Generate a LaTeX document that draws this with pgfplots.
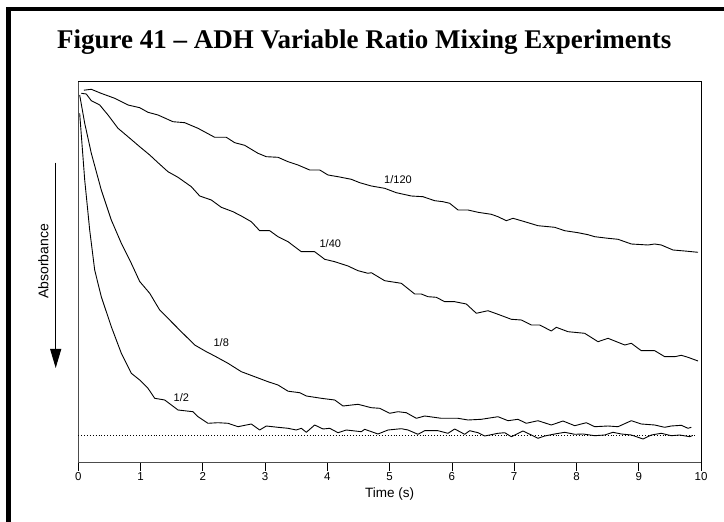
\documentclass[border=0pt]{standalone}
\usepackage{fontspec}
\setmainfont{Liberation Sans}
\newfontfamily\titlefont{Liberation Serif}
\usepackage{pgfplots}
\pgfplotsset{compat=1.18}
\usetikzlibrary{arrows.meta}

\begin{document}
\begin{tikzpicture}
\path[use as bounding box] (-78.3bp,-59.3bp) rectangle (645.7bp,462.7bp);
\draw[line width=4.7bp, line join=miter, line cap=butt] (-69.95bp,-70bp) -- (-69.95bp,453.7bp) -- (660bp,453.7bp);
\node[font=\titlefont\bfseries\fontsize{27bp}{30bp}\selectfont, anchor=base, inner sep=0pt] at (286bp,413.7bp) {Figure 41 – ADH Variable Ratio Mixing Experiments};
\node[font=\fontsize{14bp}{16bp}\selectfont, rotate=90, inner sep=0pt] at (-35bp,201.2bp) {Absorbance};
\draw[line width=1bp, -{Triangle[length=19bp,width=11bp]}] (-22.6bp,300bp) -- (-22.6bp,94.7bp);
\begin{axis}[
  at={(0,0)}, anchor=south west, scale only axis,
  width=622.7bp, height=381.7bp,
  xmin=0, xmax=10, ymin=0, ymax=381.7,
  axis x line*=bottom, axis y line*=left,
  axis line style={draw=gray!60!black, line width=1.1bp},
  xtick={0,1,2,3,4,5,6,7,8,9,10}, ytick=\empty,
  tick align=outside, major tick length=8bp,
  xtick style={draw=black, line width=0.8bp},
  /pgf/number format/assume math mode=true,
  xticklabel style={font=\fontsize{11.5bp}{13bp}\selectfont, inner sep=0pt, anchor=north, yshift=-1.5bp},
  xlabel={Time (s)},
  xlabel style={at={(axis description cs:0.5,0)}, anchor=base, yshift=-34.5bp, inner sep=0pt, font=\fontsize{13.5bp}{15bp}\selectfont},
  clip=false,
  cycle list={{black}},
  every axis plot/.append style={line width=0.9bp, no markers, line join=round},
]
\draw[black, line width=0.8bp] (rel axis cs:0,1) -- (rel axis cs:1,1) -- (rel axis cs:1,0);
% dotted baseline
\addplot[black, dotted, line width=0.7bp] coordinates {(0,27) (9.9,27)};
% 1/120
\addplot[black] coordinates {
(0.09,372.5) (0.209,373.4) (0.365,369.4) (0.585,364.4) (0.798,357.7) (0.986,355) (1.119,350.4) (1.280,347.7)
(1.520,341) (1.709,340) (1.922,334.4) (2.190,325.4) (2.377,325.4) (2.512,320) (2.672,317.4) (2.886,309.4)
(3.019,306) (3.207,305.4) (3.368,301) (3.528,297.7) (3.716,292.7) (3.877,292.7) (4.010,287.7) (4.171,286)
(4.384,283.4) (4.519,280) (4.705,276.7) (4.920,274.4) (5.107,270) (5.348,266.7) (5.535,266) (5.723,262)
(5.857,261) (5.964,259.4) (6.098,252.7) (6.258,252.7) (6.419,250.4) (6.632,248.4) (6.740,246) (6.873,242)
(6.981,244.4) (7.169,241) (7.382,237) (7.651,235.4) (7.811,232) (8.025,230) (8.185,228) (8.293,226)
(8.507,224.4) (8.667,223.4) (8.881,218.7) (9.149,217.7) (9.257,218.7) (9.362,217.7) (9.550,212.7) (9.738,211.7) (9.952,210.4)
};
% 1/40
\addplot[black] coordinates {
(0.048,369.4) (0.128,368.7) (0.209,362) (0.344,357.7) (0.477,347.7) (0.638,334.4) (0.798,326) (0.986,316)
(1.147,307.7) (1.280,300) (1.440,291) (1.601,285.4) (1.815,276) (1.950,266.7) (2.136,262.7) (2.296,255.4)
(2.484,251) (2.618,246.7) (2.778,241) (2.913,232) (3.074,232) (3.207,226) (3.368,221) (3.581,211)
(3.796,211) (3.957,203.4) (4.118,201) (4.331,196.7) (4.492,192) (4.652,189.4) (4.705,190) (4.920,182)
(5.187,179.4) (5.402,168.7) (5.508,168.7) (5.616,166) (5.749,165.4) (5.884,161) (6.045,161) (6.231,158.7)
(6.392,149.4) (6.579,152) (6.740,148.4) (6.954,143.4) (7.114,142.7) (7.275,137.7) (7.410,137.7) (7.596,131.7)
(7.676,135.4) (7.864,131) (8.132,129.4) (8.346,121) (8.507,124.4) (8.775,117.7) (8.881,119.4) (9.041,112)
(9.257,112) (9.417,106) (9.578,106) (9.684,107.4) (9.791,105.4) (9.952,101.7)
};
% 1/8
\addplot[black] coordinates {
(0.022,367.7) (0.103,339.4) (0.209,309.4) (0.369,272.7) (0.530,242.7) (0.691,219.4) (0.851,199.4) (0.986,181.2)
(1.147,169.4) (1.307,152.7) (1.494,141) (1.654,131) (1.869,117.7) (2.056,111) (2.190,106.7) (2.404,99.4)
(2.618,91) (2.833,86) (3.046,81) (3.207,77.7) (3.368,71.5) (3.555,70) (3.662,66.7) (3.902,64.4)
(4.118,62.7) (4.251,56.7) (4.492,58.4) (4.705,55) (4.840,54.4) (5.001,49.4) (5.134,51) (5.267,50)
(5.428,44.4) (5.563,46.7) (5.829,44.4) (6.098,44.4) (6.258,42.7) (6.472,43.4) (6.740,46) (6.901,42)
(7.061,43.4) (7.194,39.4) (7.382,42) (7.596,37.7) (7.784,41.7) (7.972,37) (8.158,40) (8.293,36)
(8.507,36.7) (8.667,36) (8.881,42) (9.041,38.7) (9.257,37.7) (9.417,35.4) (9.523,36.7) (9.684,37.4)
(9.791,34.4) (9.844,35.4)
};
% 1/2
\addplot[black] coordinates {
(0.022,349.4) (0.103,282.7) (0.183,232.7) (0.263,192.7) (0.369,166) (0.530,136) (0.691,109.4) (0.851,89.4)
(0.986,82.7) (1.119,74.4) (1.227,64.4) (1.388,62.7) (1.601,52.7) (1.842,51) (1.922,46) (2.083,39.4)
(2.243,40) (2.404,39.4) (2.565,36) (2.778,38.7) (2.913,32.7) (3.019,36.7) (3.207,35.4) (3.368,34.4)
(3.501,32.7) (3.581,34.4) (3.662,30.4) (3.796,37.7) (3.930,33.7) (4.037,34.4) (4.171,30) (4.304,32.7)
(4.545,31) (4.599,33.4) (4.813,28.7) (4.974,32.7) (5.187,34) (5.295,32.7) (5.455,28.4) (5.563,32)
(5.776,32) (5.937,29.4) (6.045,33.7) (6.205,28.4) (6.286,32) (6.419,30) (6.526,26.7) (6.740,29.4)
(6.848,30) (6.954,26) (7.141,31.7) (7.275,27.7) (7.382,24.4) (7.490,26.7) (7.651,28.7) (7.811,30.4)
(7.972,28.4) (8.105,28.7) (8.293,27) (8.453,27.7) (8.587,30.4) (8.720,28.7) (8.881,27.7) (9.069,23.7)
(9.202,27.7) (9.362,29.4) (9.523,27) (9.658,27.7) (9.818,26) (9.860,27)
};
\node[font=\fontsize{11bp}{13bp}\selectfont, inner sep=0pt] at (axis cs:5.134,283.4) {1/120};
\node[font=\fontsize{11bp}{13bp}\selectfont, inner sep=0pt] at (axis cs:4.047,219.4) {1/40};
\node[font=\fontsize{11bp}{13bp}\selectfont, inner sep=0pt] at (axis cs:2.296,120) {1/8};
\node[font=\fontsize{11bp}{13bp}\selectfont, inner sep=0pt] at (axis cs:1.654,65) {1/2};
\end{axis}
\end{tikzpicture}
\end{document}
